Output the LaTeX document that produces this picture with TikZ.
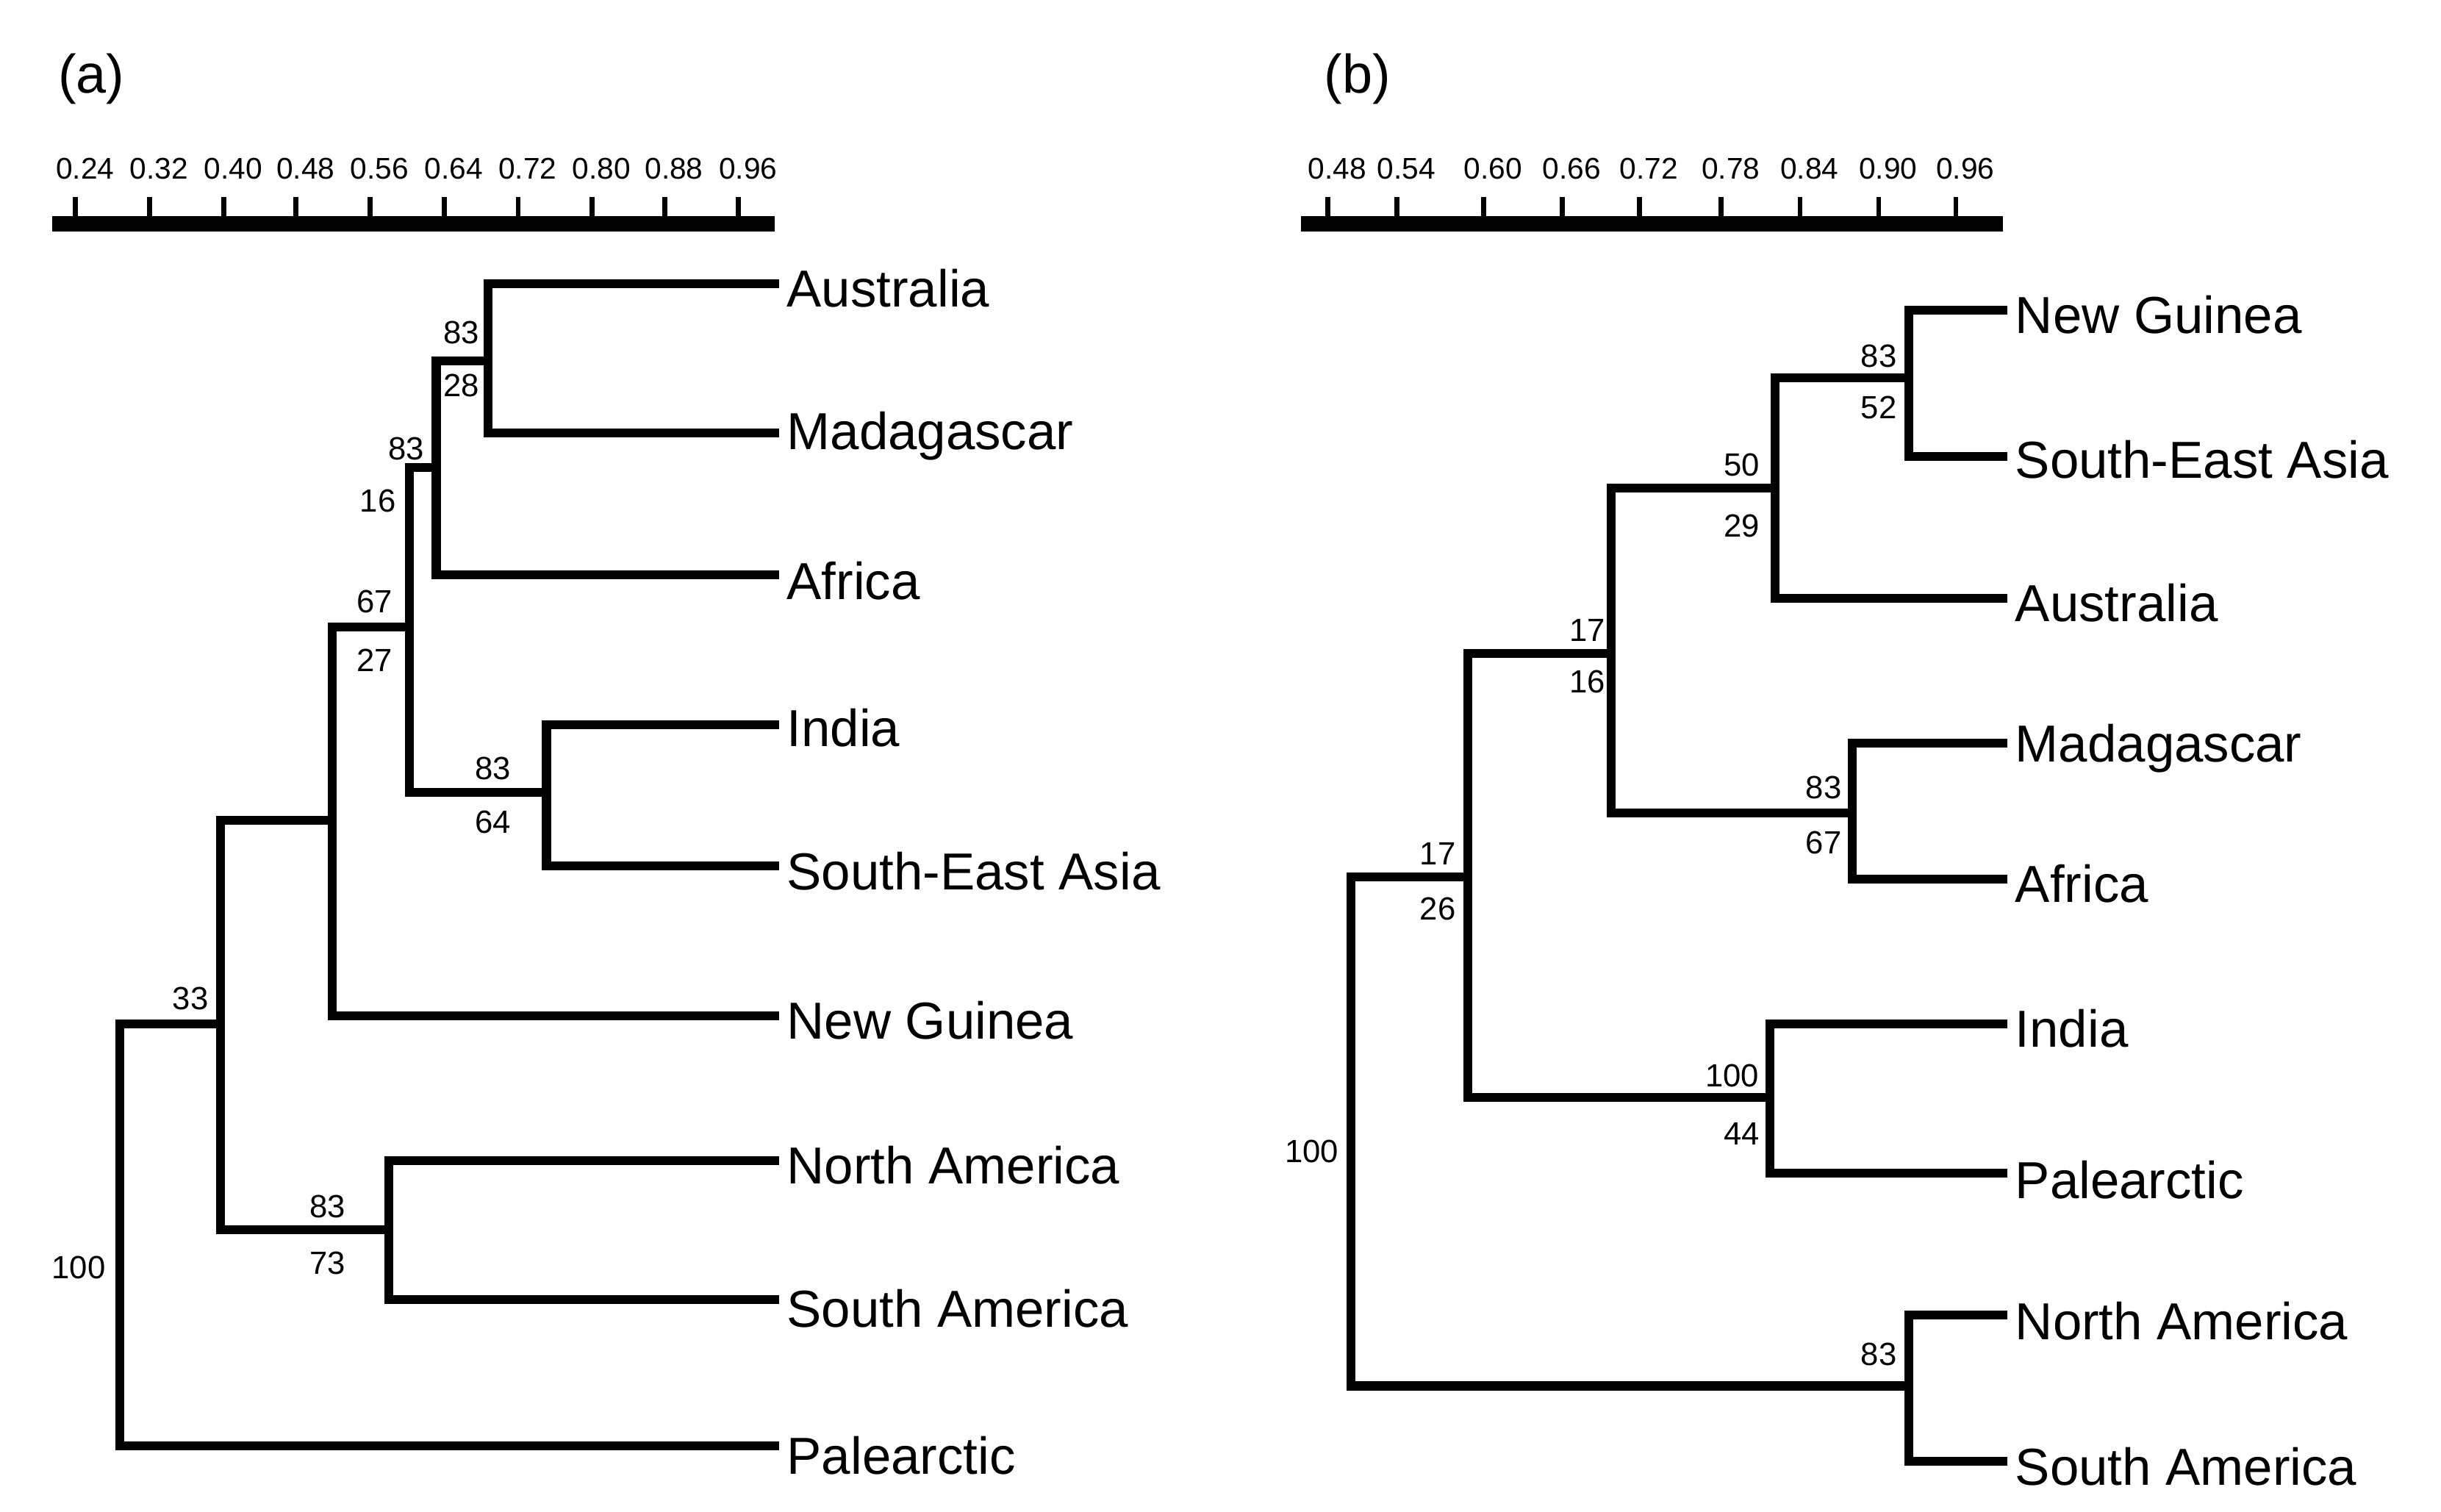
\documentclass[tikz,border=0pt]{standalone}
\usepackage{fontspec}
\setmainfont{Liberation Sans}
\begin{document}
\begin{tikzpicture}[x=0.01cm,y=-0.01cm,
  br/.style={line width=1.6pt,line cap=rect},
  bar/.style={line width=2.8pt},
  tk/.style={line width=0.9pt},
  leaf/.style={anchor=west,inner sep=0pt,font=\fontsize{9.4}{11}\selectfont},
  num/.style={inner sep=0pt,font=\fontsize{5.8}{7}\selectfont},
  sc/.style={inner sep=0pt,font=\fontsize{5.4}{7}\selectfont},
  pl/.style={inner sep=0pt,font=\fontsize{9.8}{11}\selectfont}]
\useasboundingbox (0,0) rectangle (1550,960);
% ---------- panel a ----------
\node[pl] (pa) at (58,50) {(a)};
\draw[bar] (33,142) -- (492,142);
\foreach \x/\l [count=\i] in {48/0.24,95/0.32,142/0.40,188/0.48,235/0.56,282/0.64,329/0.72,376/0.80,422/0.88,469/0.96}{
  \draw[tk] (\x,142) -- (\x,125);
  \node[sc] (sa\i) at (\x+6,107) {\l};}
\foreach \n/\t/\y in {aAus/Australia/183,aMad/Madagascar/277,aAfr/Africa/369,aInd/India/462,aSEA/South-East Asia/553,aNG/New Guinea/648,aNA/North America/740,aSA/South America/831,aPal/Palearctic/924}
  \node[leaf] (\n) at (499,\y) {\t};
\draw[br] (492,180) -- (310,180) -- (310,275) -- (492,275);
\draw[br] (310,229) -- (277,229) -- (277,365) -- (492,365);
\draw[br] (277,297) -- (260,297) -- (260,503) -- (347,503);
\draw[br] (492,460) -- (347,460) -- (347,550) -- (492,550);
\draw[br] (260,398) -- (211,398) -- (211,645) -- (492,645);
\draw[br] (211,521) -- (140,521) -- (140,781) -- (247,781);
\draw[br] (492,737) -- (247,737) -- (247,825) -- (492,825);
\draw[br] (140,650) -- (76,650) -- (76,918) -- (492,918);
\node[num] at (293,211) {83};
\node[num] at (293,245) {28};
\node[num] at (258,285) {83};
\node[num] at (240,318) {16};
\node[num] at (238,382) {67};
\node[num] at (238,419) {27};
\node[num] at (313,488) {83};
\node[num] at (313,522) {64};
\node[num] at (121,634) {33};
\node[num] at (208,766) {83};
\node[num] at (208,802) {73};
\node[num] at (50,805) {100};
% ---------- panel b ----------
\node[pl] (pb) at (862,50) {(b)};
\draw[bar] (826,142) -- (1272,142);
\foreach \x/\l [count=\i] in {843/0.48,887/0.54,942/0.60,992/0.66,1041/0.72,1093/0.78,1143/0.84,1193/0.90,1242/0.96}{
  \draw[tk] (\x,142) -- (\x,125);
  \node[sc] (sb\i) at (\x+6,107) {\l};}
\foreach \n/\t/\y in {bNG/New Guinea/200,bSEA/South-East Asia/292,bAus/Australia/383,bMad/Madagascar/475,bAfr/Africa/561,bInd/India/653,bPal/Palearctic/749,bNA/North America/839,bSA/South America/931}
  \node[leaf] (\n) at (1279,\y) {\t};
\draw[br] (1272,197) -- (1212,197) -- (1212,290) -- (1272,290);
\draw[br] (1212,240) -- (1127,240) -- (1127,380) -- (1272,380);
\draw[br] (1272,472) -- (1176,472) -- (1176,558) -- (1272,558);
\draw[br] (1127,310) -- (1023,310) -- (1023,516) -- (1176,516);
\draw[br] (1272,650) -- (1124,650) -- (1124,745) -- (1272,745);
\draw[br] (1023,415) -- (932,415) -- (932,697) -- (1124,697);
\draw[br] (1272,835) -- (1212,835) -- (1212,928) -- (1272,928);
\draw[br] (932,557) -- (858,557) -- (858,880) -- (1212,880);
\node[num] at (1193,226) {83};
\node[num] at (1193,259) {52};
\node[num] at (1106,295) {50};
\node[num] at (1106,334) {29};
\node[num] at (1008,400) {17};
\node[num] at (1008,433) {16};
\node[num] at (1158,500) {83};
\node[num] at (1158,535) {67};
\node[num] at (913,542) {17};
\node[num] at (913,577) {26};
\node[num] at (1100,683) {100};
\node[num] at (1106,720) {44};
\node[num] at (1193,860) {83};
\node[num] at (833,731) {100};
\end{tikzpicture}
\end{document}
